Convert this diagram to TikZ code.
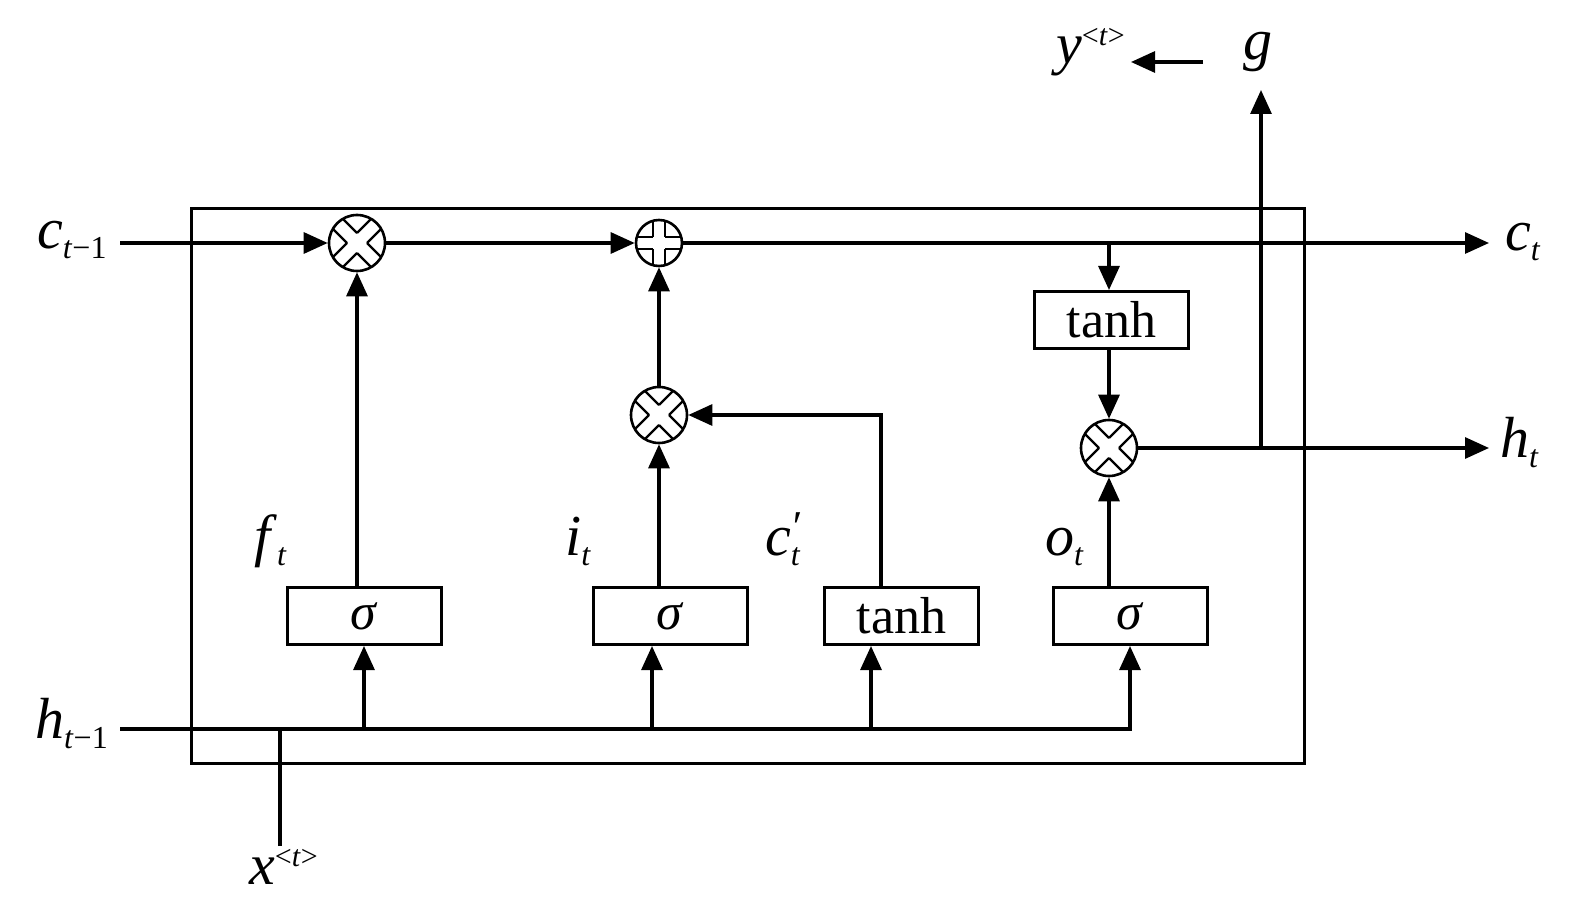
\documentclass[tikz,border=0pt]{standalone}
\usepackage{fontspec}
\setmainfont{Liberation Serif}
\usetikzlibrary{arrows.meta}
\newcommand{\symsub}[2]{\textit{#1}\raisebox{-10pt}{\fontsize{32}{32}\selectfont #2}}
\newcommand{\symsup}[2]{\textit{#1}\raisebox{18pt}{\fontsize{30}{30}\selectfont #2}}
\begin{document}
\begin{tikzpicture}[x=1pt,y=-1pt,
  ln/.style={line width=3.1pt},
  arr/.style={ln,-{Triangle[length=24pt,width=21pt]}},
  gate/.style={draw,line width=3pt,minimum width=154pt,minimum height=57pt,inner sep=0pt,
    font=\fontsize{52}{56}\selectfont},
  lbl/.style={anchor=base west,inner sep=0pt,font=\fontsize{58}{64}\selectfont},
  mult/.style={circle,draw,line width=2.6pt,minimum size=56pt,inner sep=0pt,fill=white,
    path picture={\begin{scope}[shift={(path picture bounding box.center)}]
      \draw[line width=2.4pt]
        (10pt,0pt) -- ++(40pt,40pt) (10pt,0pt) -- ++(40pt,-40pt)
        (-10pt,0pt) -- ++(-40pt,40pt) (-10pt,0pt) -- ++(-40pt,-40pt)
        (0pt,10pt) -- ++(40pt,40pt) (0pt,10pt) -- ++(-40pt,40pt)
        (0pt,-10pt) -- ++(40pt,-40pt) (0pt,-10pt) -- ++(-40pt,-40pt);
      \end{scope}}},
  plus/.style={circle,draw,line width=2.6pt,minimum size=46pt,inner sep=0pt,fill=white,
    path picture={\begin{scope}[shift={(path picture bounding box.center)}]
      \draw[line width=2.4pt]
        (6pt,6pt) -- (40pt,6pt) (6pt,-6pt) -- (40pt,-6pt)
        (-6pt,6pt) -- (-40pt,6pt) (-6pt,-6pt) -- (-40pt,-6pt)
        (6pt,6pt) -- (6pt,40pt) (-6pt,6pt) -- (-6pt,40pt)
        (6pt,-6pt) -- (6pt,-40pt) (-6pt,-6pt) -- (-6pt,-40pt);
      \end{scope}}}
]
\useasboundingbox (0,0) rectangle (1575,909);
% outer cell
\node[draw,line width=3pt,minimum width=1113pt,minimum height=554pt,inner sep=0pt] (cell) at (747.5,486) {};
% gate boxes
\node[gate] (fbox) at (364,616) {\textit{σ}};
\node[gate] (ibox) at (670.5,616) {\textit{σ}};
\node[gate] (cbox) at (901.5,616) {tanh};
\node[gate] (obox) at (1130,616) {\textit{σ}};
\node[gate] (tbox) at (1111.5,320) {tanh};
% operators
\node[mult] (fx) at (357,243) {};
\node[plus] (pl) at (659,243) {};
\node[mult] (ix) at (659,415) {};
\node[mult] (ox) at (1109,448) {};
% coordinates
\coordinate (cin) at (120,243);
\coordinate (cout) at (1489,243);
\coordinate (cj) at (1109,243);
\coordinate (hin) at (120,729);
\coordinate (hout) at (1489,448);
\coordinate (hb1) at (364,729);
\coordinate (hb2) at (652,729);
\coordinate (hb3) at (871,729);
\coordinate (cup) at (881,616);
\coordinate (xin) at (280,846);
\coordinate (gj) at (1261,448);
\coordinate (gtip) at (1261,90);
\coordinate (ys) at (1203,62);
\coordinate (ytip) at (1131,62);
% cell state line
\draw[arr] (cin) -- (fx.west);
\draw[arr] (fx.east) -- (pl.west);
\draw[arr] (pl.east) -- (cout);
\draw[arr] (cj) -- (cj |- tbox.north);
\draw[arr] (tbox.south -| ox) -- (ox.north);
% gates to operators
\draw[arr] (fbox.north -| fx) -- (fx.south);
\draw[arr] (ibox.north -| ix) -- (ix.south);
\draw[arr] (ix.north) -- (pl.south);
\draw[arr] (cup |- cbox.north) |- (ix.east);
\draw[arr] (obox.north -| ox) -- (ox.south);
% hidden output
\draw[arr] (ox.east) -- (hout);
\draw[arr] (gj) -- (gtip);
\draw[arr] (ys) -- (ytip);
% hidden input
\draw[arr] (hin) -| (obox.south);
\draw[arr] (hb1) -- (hb1 |- fbox.south);
\draw[arr] (hb2) -- (hb2 |- ibox.south);
\draw[arr] (hb3) -- (hb3 |- cbox.south);
\draw[ln] (xin) -- (xin |- hin);
% labels
\node[lbl] (lc) at (37,249) {\symsub{c}{\textit{t}−1}};
\node[lbl] (lh) at (35,738) {\symsub{h}{\textit{t}−1}};
\node[lbl] (lx) at (249,884) {\symsup{x}{<\textit{t}>}};
\node[lbl] (ly) at (1056,64) {\symsup{y}{<\textit{t}>}};
\node[lbl] (lg) at (1243,60) {\textit{g}};
\node[lbl] (lct) at (1505,251) {\symsub{c}{\textit{t}}};
\node[lbl] (lht) at (1500,457) {\symsub{h}{\textit{t}}};
\node[lbl] (lf) at (254,555) {\symsub{f}{\textit{t}}};
\node[lbl] (li) at (565,555) {\symsub{i}{\textit{t}}};
\node[lbl] (lcp) at (765,555) {\textit{c}\makebox[0pt][l]{\raisebox{14pt}{\fontsize{44}{44}\selectfont\textit{′}}}\raisebox{-10pt}{\fontsize{32}{32}\selectfont\textit{t}}};
\node[lbl] (lo) at (1045,555) {\symsub{o}{\textit{t}}};
\end{tikzpicture}
\end{document}
